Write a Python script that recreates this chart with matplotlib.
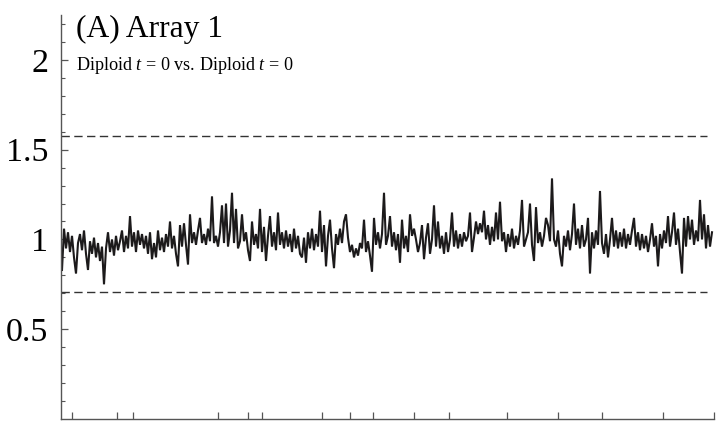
import matplotlib
matplotlib.use("Agg")
import matplotlib.pyplot as plt
import numpy as np

plt.rcParams['font.family'] = ['Liberation Serif', 'DejaVu Serif']
plt.rcParams['mathtext.fontset'] = 'custom'
plt.rcParams['mathtext.rm'] = 'Liberation Serif'
plt.rcParams['mathtext.it'] = 'Liberation Serif:italic'

title = "(A) Array 1"
subtitle = r"Diploid $t$ = 0 vs. Diploid $t$ = 0"

# intensity ratios along the genome
ratio = [
    0.83, 1.06, 0.95, 1.04, 0.93, 1.02, 0.90, 0.81, 0.98, 1.03,
    0.94, 1.05, 0.92, 0.83, 0.99, 0.92, 1.01, 0.90, 0.98, 0.88,
    0.96, 0.75, 0.95, 1.04, 0.93, 1.00, 0.91, 1.02, 0.94, 0.99,
    1.05, 0.93, 1.02, 0.95, 1.13, 0.96, 1.04, 0.93, 1.05, 0.97,
    1.03, 0.95, 1.02, 0.92, 1.04, 0.89, 0.98, 0.90, 1.05, 0.94,
    1.01, 0.93, 1.03, 0.96, 1.10, 0.95, 1.02, 0.92, 0.85, 1.08,
    0.96, 1.09, 0.97, 0.86, 1.14, 0.98, 1.04, 0.97, 1.05, 1.12,
    0.98, 1.03, 0.97, 1.06, 0.99, 1.24, 0.98, 1.02, 0.96, 1.04,
    1.19, 0.98, 1.20, 0.96, 1.05, 1.26, 0.98, 1.17, 0.95, 0.99,
    1.14, 0.99, 1.04, 0.94, 0.88, 1.10, 0.97, 1.03, 0.95, 1.17,
    0.93, 1.07, 0.88, 1.02, 1.13, 0.96, 1.04, 0.94, 1.15, 0.97,
    1.04, 0.95, 1.05, 0.96, 1.03, 0.93, 1.06, 0.95, 1.02, 0.92,
    0.90, 1.01, 0.87, 1.04, 0.95, 1.06, 0.94, 1.03, 0.96, 1.16,
    0.93, 1.08, 0.85, 1.02, 1.11, 0.95, 0.84, 1.03, 0.97, 1.06,
    0.98, 1.10, 1.14, 1.01, 0.93, 0.97, 0.90, 0.95, 0.91, 0.98,
    0.95, 1.11, 0.93, 0.99, 0.91, 0.82, 1.12, 0.97, 1.04, 0.95,
    1.03, 1.26, 0.97, 1.02, 1.13, 0.96, 1.04, 0.94, 1.03, 0.87,
    1.11, 0.95, 1.02, 0.93, 1.14, 1.02, 1.06, 1.00, 0.93, 0.98,
    1.08, 0.89, 1.01, 1.09, 0.92, 1.00, 1.19, 0.96, 1.10, 0.95,
    1.02, 0.92, 1.04, 0.93, 1.00, 1.15, 0.96, 1.05, 0.95, 1.03,
    0.96, 1.04, 0.99, 1.02, 1.15, 0.93, 1.01, 1.10, 1.03, 1.09,
    1.04, 1.16, 1.00, 1.08, 0.97, 1.07, 0.99, 1.15, 1.00, 1.21,
    0.99, 1.04, 0.93, 1.03, 0.96, 1.06, 0.95, 1.02, 0.97, 1.05,
    1.22, 0.96, 1.00, 1.04, 1.20, 0.97, 0.88, 1.18, 0.98, 1.04,
    0.96, 1.02, 1.12, 1.08, 0.99, 1.34, 1.00, 0.96, 1.05, 0.92,
    0.85, 1.02, 0.96, 1.05, 0.94, 1.03, 1.20, 0.97, 1.06, 0.95,
    1.08, 0.96, 1.00, 1.12, 0.81, 1.04, 0.95, 1.05, 0.97, 1.27,
    0.98, 0.92, 1.03, 0.90, 1.00, 1.12, 0.96, 1.05, 0.95, 1.04,
    0.96, 1.06, 0.95, 1.03, 0.97, 1.05, 1.12, 0.96, 1.04, 0.94,
    1.03, 0.95, 1.02, 0.93, 1.00, 1.09, 0.96, 1.02, 0.85, 1.03,
    0.95, 1.05, 0.98, 1.13, 0.96, 1.04, 1.15, 0.97, 1.06, 0.93,
    0.81, 1.12, 0.96, 1.13, 1.00, 1.11, 0.97, 1.05, 0.99, 1.22,
    1.00, 1.14, 0.95, 1.08, 0.96, 1.04,
]

upper_threshold = 1.578
lower_threshold = 0.707

# chromosome boundary ticks (probe index positions)
boundary_ticks = [5, 27.5, 35.5, 78, 93, 100, 130, 144, 155.5, 176,
                  193.5, 222.5, 248, 270, 300.5, 326]
major_yticks = [0.5, 1, 1.5, 2]
major_ylabels = ["0.5", "1", "1.5", "2"]

fig = plt.figure(figsize=(7.19, 4.24), dpi=100)
ax = fig.add_axes([61/719, 1 - 419/424, (714-61)/719, (419-15)/424])

x = np.arange(len(ratio))
ax.plot(x, ratio, color='#1c1a1b', lw=1.5, solid_joinstyle='miter')

ax.hlines([upper_threshold, lower_threshold], -0.5, 322.5,
          colors='#333333', linestyles=(0, (6, 3.2)), lw=1.0)

ax.set_xlim(-0.5, 326)
ax.set_ylim(0, 2.25)

for s in ['top', 'right']:
    ax.spines[s].set_visible(False)
for s in ['left', 'bottom']:
    ax.spines[s].set_color('#555555')
    ax.spines[s].set_linewidth(1.0)

ax.set_xticks(boundary_ticks)
ax.set_xticklabels([])
ax.tick_params(axis='x', direction='in', length=5, width=0.9, color='#555555')

ax.set_yticks(major_yticks)
ax.set_yticklabels(major_ylabels, fontsize=24.5)
ax.set_yticks(np.arange(0.1, 2.25, 0.1), minor=True)
ax.tick_params(axis='y', which='major', direction='in', length=5, width=0.9,
               color='#555555', pad=9)
ax.tick_params(axis='y', which='minor', direction='in', length=3, width=0.8,
               color='#555555')

fig.text(76/719, 1 - 37/424, title, fontsize=22.7, va='baseline', ha='left')
fig.text(76/719, 1 - 70/424, subtitle, fontsize=13.1, va='baseline', ha='left')

fig.savefig("out.png", dpi=100)
